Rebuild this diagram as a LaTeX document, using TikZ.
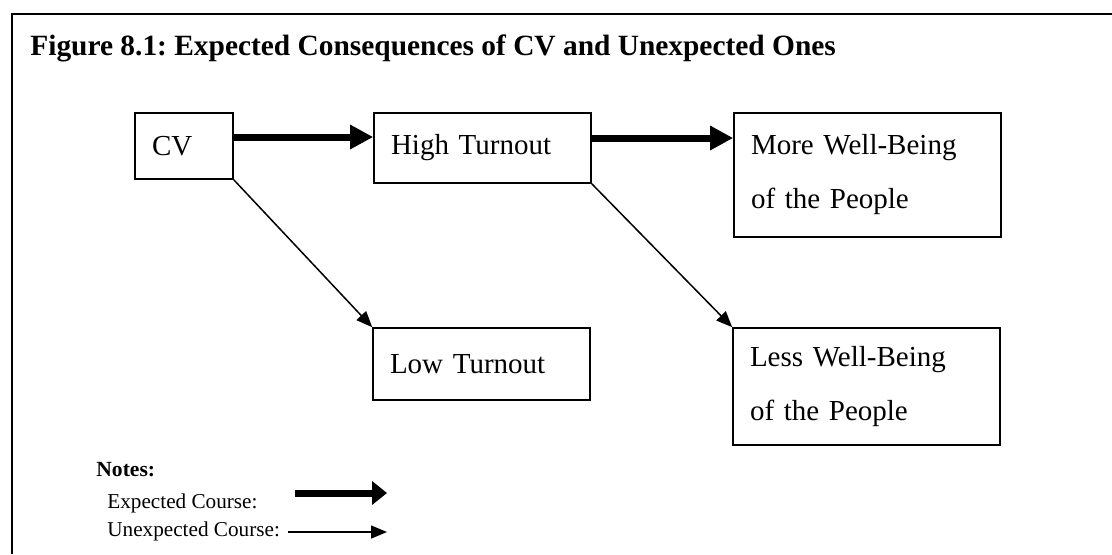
\documentclass[tikz,border=0pt]{standalone}
\usepackage{fontspec}
\setmainfont{Liberation Serif}
\usetikzlibrary{arrows.meta}
\frenchspacing

\tikzset{
  course box/.style = {draw, line width = 0.8pt, align = left, inner xsep = 8.5pt,
    font = \fontsize{14.5}{27}\selectfont},
  expected/.style = {line width = 3.5pt, -{Triangle[length = 11.5pt, width = 11.5pt]}},
  unexpected/.style = {line width = 0.75pt, -{Triangle[length = 8pt, width = 6.5pt]}},
  legend text/.style = {anchor = base west, inner sep = 0pt, font = \fontsize{10.6}{13}\selectfont}
}

\begin{document}
\begin{tikzpicture}[x = 0.5pt, y = -0.5pt]
    \useasboundingbox (0, 0) rectangle (1112, 554);
    \draw[line width = 1pt] (12, 554) -- (12, 14) -- (1112, 14);
    \node[anchor = base west, inner sep = 0pt, font = \fontsize{14.7}{17}\selectfont\bfseries] (title) at (30, 55)
      {Figure 8.1: Expected Consequences of CV and Unexpected Ones};
    \node[course box, text width = 32pt, minimum height = 33pt] (cv) at (184, 146) {CV};
    \node[course box, text width = 91.5pt, minimum height = 35pt] (high turnout) at (482.5, 148) {High Turnout};
    \node[course box, text width = 116.5pt, minimum height = 62pt] (more well-being) at (867.5, 175) {More Well-Being \\ of the People};
    \node[course box, text width = 91.5pt, minimum height = 36pt] (low turnout) at (481.5, 364) {Low Turnout};
    \node[course box, text width = 116.5pt, minimum height = 58.5pt] (less well-being) at (866.5, 386.5) {Less Well-Being \\ of the People};
    \draw[expected] ([yshift = 4.5pt]cv.east) -- ([yshift = 4.5pt]cv.east -| high turnout.west);
    \draw[expected] ([yshift = 5pt]high turnout.east) -- ([yshift = 5pt]high turnout.east -| more well-being.west);
    \draw[unexpected] (cv.south east) -- (low turnout.north west);
    \draw[unexpected] (high turnout.south east) -- (less well-being.north west);
    % notes
    \node[legend text, font = \fontsize{10.8}{13}\selectfont\bfseries] (notes) at (96, 476) {Notes:};
    \node[legend text] (expected course) at (107, 508) {Expected Course:};
    \node[legend text] (unexpected course) at (107, 536) {Unexpected Course:};
    \coordinate (expected start) at (295, 493);
    \coordinate (expected end) at (387, 493);
    \coordinate (unexpected start) at (288, 532);
    \coordinate (unexpected end) at (387, 532);
    \draw[line width = 3.5pt, -{Triangle[length = 7.5pt, width = 11.5pt]}] (expected start) -- (expected end);
    \draw[unexpected] (unexpected start) -- (unexpected end);
  \end{tikzpicture}
\end{document}
